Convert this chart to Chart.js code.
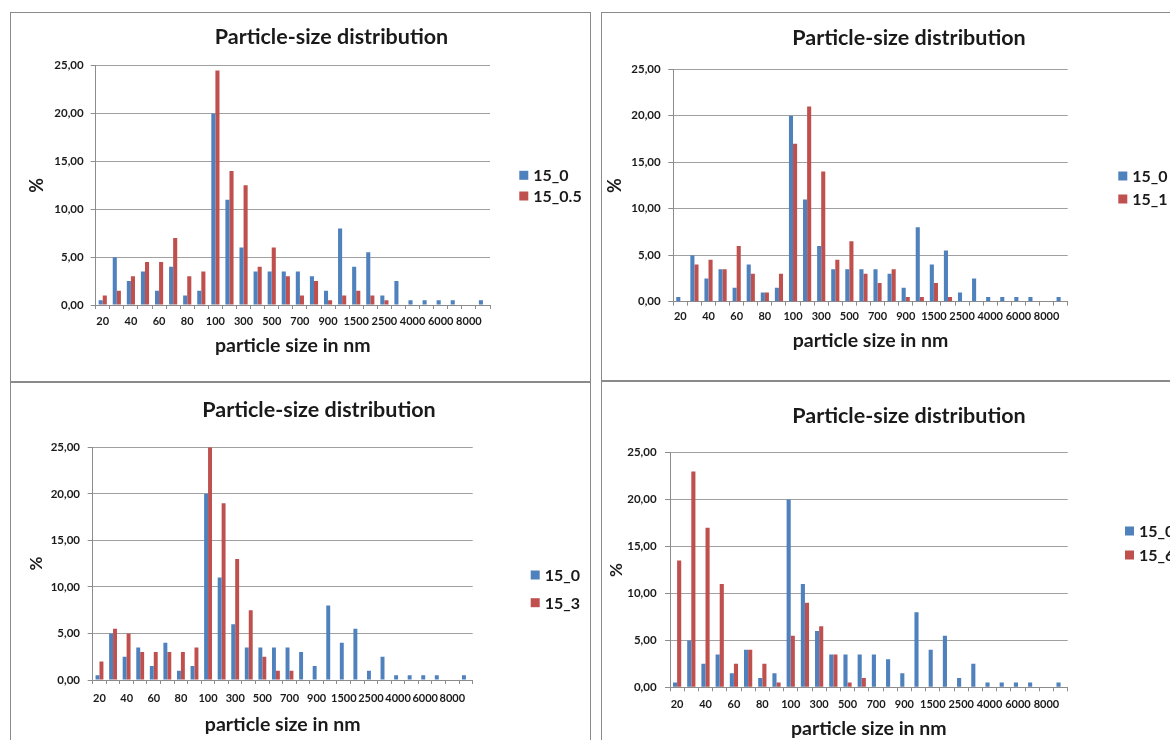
<!DOCTYPE html>
<html>
<head>
<meta charset="utf-8">
<script src="https://cdn.jsdelivr.net/npm/chart.js@4.4.1/dist/chart.umd.min.js"></script>
<style>
  html, body { margin: 0; padding: 0; background: #fff; overflow: hidden; width: 1170px; height: 740px; }
  .panel { position: absolute; box-sizing: border-box; border: 1px solid #8a8a8a; background: #fff; overflow: hidden; }
  .panel canvas { position: absolute; left: 0; top: 0; }
</style>
</head>
<body>
<div class="panel" id="p1" style="left:10px;top:12px;width:581px;height:370px;"><canvas id="c1" width="579" height="368"></canvas></div>
<div class="panel" id="p2" style="left:601px;top:12px;width:600px;height:369px;"><canvas id="c2" width="598" height="367"></canvas></div>
<div class="panel" id="p3" style="left:10px;top:382px;width:581px;height:400px;"><canvas id="c3" width="579" height="357"></canvas></div>
<div class="panel" id="p4" style="left:601px;top:381px;width:600px;height:400px;"><canvas id="c4" width="598" height="358"></canvas></div>
<script>
// ---- data ----
const sizes = ['20','30','40','50','60','70','80','90','100','200','300','400','500','600','700','800','900','1000','1500','2000','2500','3000','4000','5000','6000','7000','8000','9000'];
const s15_0   = [0.5,5,2.5,3.5,1.5,4,1,1.5,20,11,6,3.5,3.5,3.5,3.5,3,1.5,8,4,5.5,1,2.5,0.5,0.5,0.5,0.5,0,0.5];
const s15_0_5 = [1,1.5,3,4.5,4.5,7,3,3.5,24.5,14,12.5,4,6,3,1,2.5,0.5,1,1.5,1,0.5,0,0,0,0,0,0,0];
const s15_1   = [0,4,4.5,3.5,6,3,1,3,17,21,14,4.5,6.5,3,2,3.5,0.5,0.5,2,0.5,0,0,0,0,0,0,0,0];
const s15_3   = [2,5.5,5,3,3,3,3,3.5,25,19,13,7.5,2.5,1,1,0,0,0,0,0,0,0,0,0,0,0,0,0];
const s15_6   = [13.5,23,17,11,2.5,4,2.5,0.5,5.5,9,6.5,3.5,0.5,1,0,0,0,0,0,0,0,0,0,0,0,0,0,0];
const seriesNames = ['15_0','15_0.5','15_1','15_3','15_6'];
const chartTitle = 'Particle-size distribution';
const xTitle = 'particle size in nm';
const yTitle = '%';
const yTicks = [0,5,10,15,20,25];

// ---- styles ----
const BLUE = '#4F81BD', RED = '#C0504D', TEXT = '#1a1a1a', GRID = '#a0a0a0', AXIS = '#8c8c8c';
const FONT = 'Lato, "Open Sans", sans-serif';
const XT_SIZE = 19.5;

const decor = {
  id: 'decor',
  afterDraw(chart, args, o) {
    const ctx = chart.ctx;
    ctx.save();
    ctx.fillStyle = TEXT;
    ctx.textBaseline = 'middle';
    ctx.textAlign = 'center';
    ctx.font = 'bold ' + o.titleSize + 'px ' + FONT;
    ctx.fillText(o.title, o.titleX, o.titleY);
    ctx.textAlign = 'left';
    ctx.font = 'bold ' + o.legendSize + 'px ' + FONT;
    chart.data.datasets.forEach((ds, i) => {
      const y = o.legendY + i * o.legendGap;
      ctx.fillStyle = ds.backgroundColor;
      ctx.fillRect(o.legendX, y - 4.5, 9, 9);
      ctx.fillStyle = TEXT;
      ctx.fillText(ds.label, o.legendX + 14, y + 1);
    });
    ctx.restore();
  }
};

function makeChart(id, redName, redData, L) {
  new Chart(document.getElementById(id), {
    type: 'bar',
    data: {
      labels: sizes,
      datasets: [
        { label: seriesNames[0], data: s15_0, backgroundColor: BLUE },
        { label: redName, data: redData, backgroundColor: RED }
      ]
    },
    plugins: [decor],
    options: {
      responsive: false,
      animation: false,
      devicePixelRatio: 1,
      layout: { padding: { left: 0, right: L.padR, top: L.padT, bottom: 0 } },
      datasets: { bar: { categoryPercentage: 0.58, barPercentage: 1.0 } },
      plugins: {
        legend: { display: false },
        title: { display: false },
        tooltip: { enabled: false },
        decor: {
          title: chartTitle, titleSize: 21.5, titleX: L.titleX, titleY: L.titleY,
          legendX: L.legX, legendY: L.legY, legendGap: L.legGap, legendSize: 16
        }
      },
      scales: {
        x: {
          afterFit(s) { s.height = L.xH; },
          grid: { display: true, drawOnChartArea: false, drawTicks: true, tickLength: 4, color: AXIS, offset: true },
          border: { display: true, color: AXIS, width: 1 },
          ticks: {
            autoSkip: false, maxRotation: 0, minRotation: 0, padding: L.xPad,
            color: TEXT, font: { family: FONT, size: 11, weight: 'bold' },
            callback: function(v, i) { return i % 2 === 0 ? this.getLabelForValue(v) : ''; }
          },
          title: { display: true, text: xTitle, color: TEXT, font: { family: FONT, size: XT_SIZE, weight: 'bold' }, padding: { top: 0, bottom: L.xtPad } }
        },
        y: {
          min: 0, max: 25,
          afterFit(s) { s.width = L.yW; },
          afterBuildTicks(s) { s.ticks = yTicks.map(v => ({ value: v })); },
          grid: { color: GRID, lineWidth: 1, drawTicks: true, tickLength: 5, tickColor: AXIS },
          border: { display: true, color: AXIS, width: 1 },
          ticks: {
            padding: L.yPad, color: TEXT, font: { family: FONT, size: 11.5, weight: 'bold' },
            callback: v => v.toFixed(2).replace('.', ',')
          },
          title: { display: true, text: yTitle, color: TEXT, font: { family: FONT, size: L.ytSize, weight: 'bold' }, padding: { top: L.ytPad, bottom: 0 } }
        }
      }
    }
  });
}

makeChart('c1', seriesNames[1], s15_0_5, { padR: 100, padT: 52.7, xH: 76, yW: 84.7, xPad: 5.4, xtPad: 23.3, yPad: 7, ytPad: 14.9, ytSize: 18,
  titleX: 320.5, titleY: 24, legX: 508.3, legY: 162.3, legGap: 20.7 });
makeChart('c2', seriesNames[2], s15_1, { padR: 132.3, padT: 56.3, xH: 78.3, yW: 71.3, xPad: 4.4, xtPad: 27.3, yPad: 7.6, ytPad: 2.2, ytSize: 18,
  titleX: 307, titleY: 25, legX: 516.3, legY: 163, legGap: 23 });
makeChart('c3', seriesNames[3], s15_3, { padR: 117.3, padT: 64.3, xH: 60, yW: 81.7, xPad: 7.7, xtPad: 3.3, yPad: 7.7, ytPad: 15.7, ytSize: 17,
  titleX: 308, titleY: 27, legX: 519.7, legY: 192, legGap: 27.7 });
makeChart('c4', seriesNames[4], s15_6, { padR: 132.3, padT: 70.7, xH: 52.7, yW: 68, xPad: 6.4, xtPad: 0, yPad: 8.4, ytPad: 4.2, ytSize: 17,
  titleX: 307, titleY: 34, legX: 523, legY: 149, legGap: 24 });
</script>
</body>
</html>
